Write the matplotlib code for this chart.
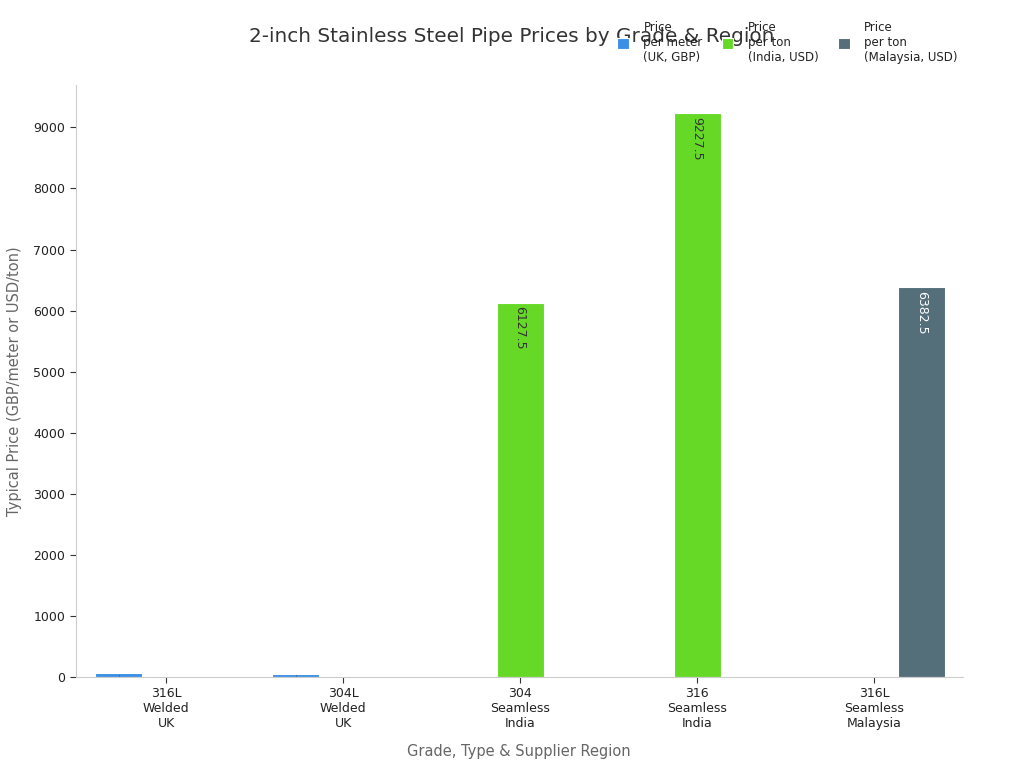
import matplotlib
matplotlib.use("Agg")
import matplotlib.pyplot as plt
import numpy as np

categories = ["316L\nWelded\nUK", "304L\nWelded\nUK", "304\nSeamless\nIndia",
              "316\nSeamless\nIndia", "316L\nSeamless\nMalaysia"]
series_names = ["Price\nper meter\n(UK, GBP)", "Price\nper ton\n(India, USD)",
                "Price\nper ton\n(Malaysia, USD)"]
uk_gbp = [60, 45, 0, 0, 0]
india_usd = [0, 0, 6127.5, 9227.5, 0]
malaysia_usd = [0, 0, 0, 0, 6382.5]
yticks = [0, 1000, 2000, 3000, 4000, 5000, 6000, 7000, 8000, 9000]

colours = ["#3b8fe6", "#66d926", "#546e7a"]
label_colours = ["#333333", "#333333", "#ffffff"]

fig = plt.figure(figsize=(10.24, 7.68), dpi=100)
ax = fig.add_axes([0.074, 0.1185, 0.866, 0.7705])

x = np.arange(len(categories))
width = 0.265
offsets = [-0.27, 0.0, 0.27]
all_series = [uk_gbp, india_usd, malaysia_usd]

for vals, off, col, lc, name in zip(all_series, offsets, colours, label_colours, series_names):
    bars = ax.bar(x + off, vals, width, color=col, edgecolor="#ffffff", linewidth=0.8, label=name)
    for b, v in zip(bars, vals):
        if v <= 0:
            continue
        txt = "{0:g}".format(v)
        if v > 1000:
            ax.text(b.get_x() + b.get_width() / 2, v - 60, txt, rotation=-90,
                    ha="center", va="top", fontsize=9, color=lc)
        else:
            # tiny bars: label squeezed inside, only a speck is visible
            ax.text(b.get_x() + b.get_width() / 2, v / 2, txt, rotation=-90,
                    ha="center", va="center", fontsize=1.5, color=lc)

ax.set_xlim(-0.51, 4.5)
ax.set_ylim(0, 9690)
ax.set_xticks(x)
ax.set_xticklabels(categories, fontsize=9, color="#222222")
ax.set_yticks(yticks)
ax.set_yticklabels([str(t) for t in yticks], fontsize=9, color="#222222")
ax.set_xlabel("Grade, Type & Supplier Region", fontsize=10.5, color="#666666", labelpad=10)
ax.set_ylabel("Typical Price (GBP/meter or USD/ton)", fontsize=10.5, color="#666666", labelpad=8)

for s in ["top", "right"]:
    ax.spines[s].set_visible(False)
for s in ["left", "bottom"]:
    ax.spines[s].set_color("#cccccc")
ax.tick_params(colors="#333333", length=4)
ax.tick_params(axis="both", labelcolor="#222222")

fig.text(0.50, 0.953, "2-inch Stainless Steel Pipe Prices by Grade & Region",
         ha="center", va="center", fontsize=14.4, color="#333333")

fig.legend(loc="upper right", bbox_to_anchor=(0.94, 0.979), ncol=3, frameon=False,
           fontsize=8.5, handlelength=1.0, handleheight=1.0, columnspacing=1.6,
           handletextpad=1.25, borderaxespad=0, labelcolor="#222222")

plt.savefig("out.png", dpi=100)
plt.close()
